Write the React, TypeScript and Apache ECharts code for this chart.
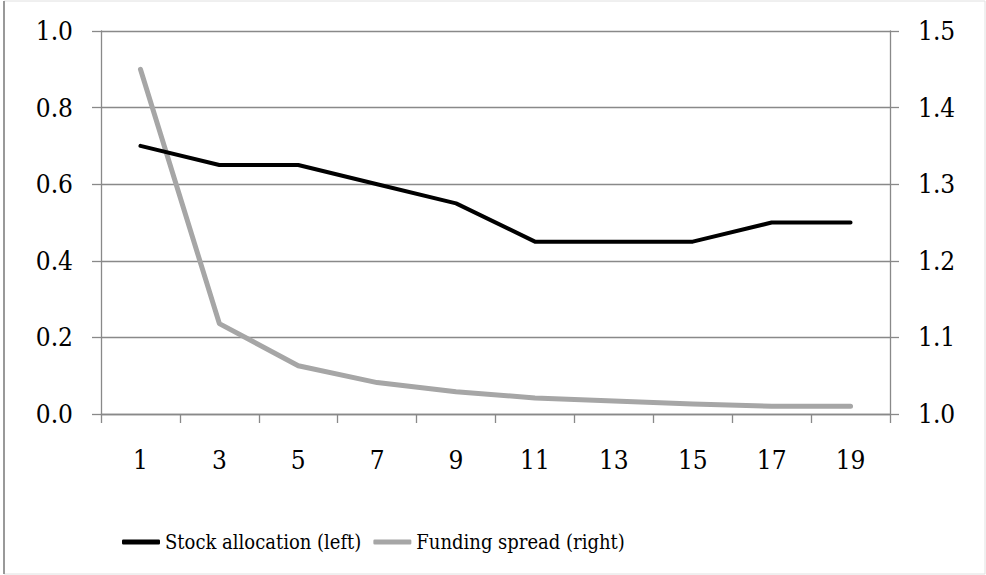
import React, { useEffect, useRef } from "react";
import * as echarts from "echarts";

const categories = ["1", "3", "5", "7", "9", "11", "13", "15", "17", "19"];
const stockAllocation = [0.7, 0.65, 0.65, 0.6, 0.55, 0.45, 0.45, 0.45, 0.5, 0.5];
const fundingSpread = [1.45, 1.118, 1.063, 1.041, 1.029, 1.021, 1.017, 1.013, 1.01, 1.01];

const FONT = "DejaVu Serif Condensed";

export default function App() {
  const ref = useRef<HTMLDivElement>(null);
  useEffect(() => {
    if (!ref.current) return;
    const chart = echarts.init(ref.current, null, { renderer: "svg" });
    const axisGray = "#898989";
    chart.setOption({
      animation: false,
      backgroundColor: "#ffffff",
      textStyle: { fontFamily: FONT },
      grid: { left: 101, right: 96, top: 31, bottom: 161, containLabel: false },
      legend: {
        left: 117,
        top: 527,
        itemGap: 12,
        itemWidth: 38,
        itemHeight: 5,
        icon: "roundRect",
        textStyle: { fontFamily: FONT, fontSize: 20, color: "#000" },
        data: ["Stock allocation (left)", "Funding spread (right)"],
      },
      xAxis: {
        type: "category",
        data: categories,
        boundaryGap: true,
        axisLine: { show: true, lineStyle: { color: axisGray, width: 1.3 } },
        axisTick: { show: true, length: 9, interval: 0, lineStyle: { color: axisGray, width: 1.3 } },
        axisLabel: { fontFamily: FONT, fontSize: 26, color: "#000", margin: 33, interval: 0 },
        splitLine: { show: false },
      },
      yAxis: [
        {
          type: "value",
          min: 0,
          max: 1,
          interval: 0.2,
          axisLine: { show: true, lineStyle: { color: axisGray, width: 1.3 } },
          axisTick: { show: true, length: 9, lineStyle: { color: axisGray, width: 1.3 } },
          axisLabel: {
            fontFamily: FONT,
            fontSize: 26,
            color: "#000",
            margin: 28,
            formatter: (v: number) => v.toFixed(1),
          },
          splitLine: { show: true, lineStyle: { color: axisGray, width: 1.3 } },
        },
        {
          type: "value",
          min: 1,
          max: 1.5,
          interval: 0.1,
          position: "right",
          axisLine: { show: true, lineStyle: { color: axisGray, width: 1.3 } },
          axisTick: { show: true, length: 9, lineStyle: { color: axisGray, width: 1.3 } },
          axisLabel: {
            fontFamily: FONT,
            fontSize: 26,
            color: "#000",
            margin: 28,
            formatter: (v: number) => v.toFixed(1),
          },
          splitLine: { show: false },
        },
      ],
      series: [
        {
          name: "Stock allocation (left)",
          type: "line",
          yAxisIndex: 0,
          data: stockAllocation,
          showSymbol: false,
          symbol: "none",
          color: "#000000",
          lineStyle: { color: "#000000", width: 4, cap: "round", join: "round" },
          z: 3,
        },
        {
          name: "Funding spread (right)",
          type: "line",
          yAxisIndex: 1,
          data: fundingSpread,
          showSymbol: false,
          symbol: "none",
          color: "#a6a6a6",
          lineStyle: { color: "#a6a6a6", width: 5, cap: "round", join: "round" },
          z: 2,
        },
      ],
      graphic: [
        {
          type: "rect",
          shape: { x: 4, y: 1, width: 981, height: 573 },
          style: { fill: "none", stroke: "#e0e0e0", lineWidth: 1 },
          silent: true,
        },
        {
          type: "line",
          shape: { x1: 4, y1: 1, x2: 4, y2: 574 },
          style: { stroke: "#999999", lineWidth: 2 },
          silent: true,
        },
      ],
    });
    return () => chart.dispose();
  }, []);
  return <div ref={ref} style={{ width: 986, height: 575, position: "absolute", left: 0, top: 0 }} />;
}
